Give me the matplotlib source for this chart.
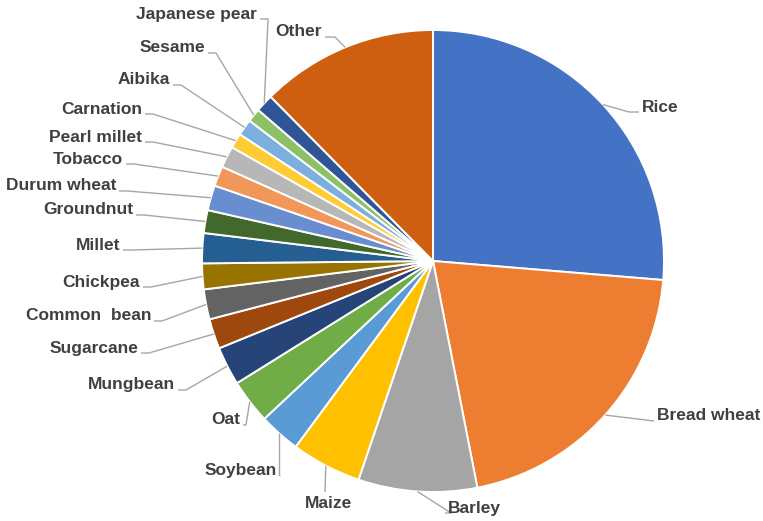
import matplotlib
matplotlib.use("Agg")
import matplotlib.pyplot as plt
import numpy as np

# ---- data ----
crops = ["Rice", "Bread wheat", "Barley", "Maize", "Soybean", "Oat", "Mungbean",
         "Sugarcane", "Common  bean", "Chickpea", "Millet", "Groundnut", "Durum wheat",
         "Tobacco", "Pearl millet", "Carnation", "Aibika", "Sesame", "Japanese pear", "Other"]
shares = [26.3, 20.6, 8.3, 4.9, 2.9, 3.1, 2.7,
          2.1, 2.1, 1.8, 2.1, 1.6, 1.75,
          1.4, 1.5, 1.05, 1.15, 0.95, 1.25, 12.4]

colors = ["#4472C4", "#ED7D31", "#A5A5A5", "#FFC000", "#5B9BD5", "#70AD47", "#264478",
          "#9E480E", "#636363", "#997300", "#255E91", "#43682B", "#698ED0",
          "#F1975A", "#B7B7B7", "#FFCD33", "#7CAFDD", "#8CC168", "#2F5597", "#CF5F10"]

# ---- layout (pixel positions of labels, image coords with y down) ----
W, H = 763, 521
CX, CY, R = 433, 261, 231
label_pos = [(642, 107, "left"), (657, 416, "left"), (448, 508, "left"), (328, 503, "center"),
             (277, 470, "right"), (240, 420, "right"), (175, 385, "right"),
             (138, 348, "right"), (151, 316, "right"), (140, 282, "right"), (120, 245, "right"),
             (133, 210, "right"), (116, 186, "right"), (123, 159, "right"), (142, 137, "right"),
             (142, 109, "right"), (170, 80, "right"), (205, 48, "right"), (257, 14, "right"),
             (322, 32, "right")]
# elbow: horizontal offset of the short segment next to the label
elbow = [10, 0, -6, 0, 0, 3, 8, 8, 8, 8, 8, 8, 8, 8, 8, 8, 8, 8, 8, 10]

fig = plt.figure(figsize=(W / 100, H / 100), dpi=100)
ax = fig.add_axes([0, 0, 1, 1])
wedges, _ = ax.pie(shares, colors=colors, startangle=90, counterclock=False,
                   center=(CX, H - CY), radius=R,
                   wedgeprops=dict(edgecolor="white", linewidth=1.4))
ax.set_xlim(0, W)
ax.set_ylim(0, H)
ax.set_aspect("equal")
ax.axis("off")

txt_color = "#404040"
line_color = "#A6A6A6"
for w, name, (lx, ly, ha), el in zip(wedges, crops, label_pos, elbow):
    mid = np.deg2rad((w.theta1 + w.theta2) / 2)
    ex = CX + R * np.cos(mid)
    ey = (H - CY) + R * np.sin(mid)
    y = H - ly
    ax.text(lx, y, name, ha=ha, va="center", fontsize=12.5, fontweight="bold",
            family=["Liberation Sans", "DejaVu Sans"], color=txt_color)
    if ha == "left":
        ax_, ay_ = lx - 3, y - 5
        pts = [(ex, ey), (ax_ - el, ay_), (ax_, ay_)]
    elif ha == "right":
        ax_, ay_ = lx + 3, y - 5
        if name == "Soybean":
            pts = [(ex, ey), (ex, ay_), (ax_, ay_)]
        else:
            pts = [(ex, ey), (ax_ + el, ay_), (ax_, ay_)]
    else:
        pts = [(ex, ey), (lx - 3, y + 11)]
    xs, ys = zip(*pts)
    ax.plot(xs, ys, color=line_color, lw=1.0, solid_capstyle="butt")

fig.savefig("out.png", dpi=100)
